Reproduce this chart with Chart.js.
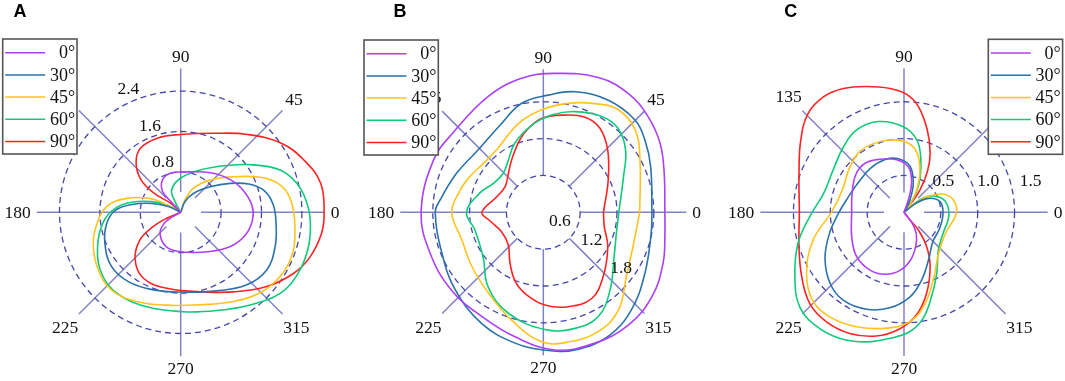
<!DOCTYPE html>
<html>
<head>
<meta charset="utf-8">
<script src="https://cdn.jsdelivr.net/npm/chart.js@4.4.0/dist/chart.umd.min.js"></script>
<style>
  html, body { margin: 0; padding: 0; background: #fff; }
  #wrap { position: relative; width: 1065px; height: 381px; }
  .panel { position: absolute; top: 0; width: 355px; height: 381px; }
</style>
</head>
<body>
<div id="wrap">
  <div class="panel" style="left:0px"><canvas id="chartA" width="355" height="381"></canvas></div>
  <div class="panel" style="left:355px"><canvas id="chartB" width="355" height="381"></canvas></div>
  <div class="panel" style="left:710px"><canvas id="chartC" width="355" height="381"></canvas></div>
</div>
<script>
// series legend + colours
const seriesNames = ["0°", "30°", "45°", "60°", "90°"];
const seriesColors = ["#ad3ff7", "#2a72a8", "#ffc31f", "#0fca7a", "#ff2222"];

// angle tick labels (degrees)
const angleTicks = [0, 45, 90, 135, 180, 225, 270, 315];

// radial ticks for each panel
const ringsA = [0.8, 1.6, 2.4];
const ringsB = [0.6, 1.2, 1.8];
const ringsC = [0.5, 1.0, 1.5];

// curves: [angle (deg), radius] in drawing order
// Panel A
const a00 = [[180,0],[209,0.19],[214,0.40],[227,0.60],[250,0.75],[279,0.80],[307,0.97],[326,1.20],[341,1.36],[354,1.43],[5,1.42],[18.5,1.32],[33,1.18],[53,0.98],[85,0.80],[104,0.80],[119,0.74],[131,0.55],[132,0.29],[180,0]];
const a30 = [[180,0],[155,0.27],[163,0.60],[171,0.98],[178.5,1.30],[188.5,1.48],[202,1.62],[218,1.74],[233,1.72],[250.5,1.63],[272,1.58],[294.5,1.71],[312,1.94],[326,2.05],[340,1.99],[353.5,1.90],[4.5,1.84],[14,1.72],[22,1.48],[30.5,1.13],[41,0.77],[56,0.45],[68,0.23],[180,0]];
const a45 = [[180,0],[152,0.31],[155,0.63],[165.5,1.10],[175.6,1.47],[189.6,1.70],[201.5,1.86],[215,1.99],[228.4,2.06],[243.8,1.97],[261.4,1.86],[281.8,1.87],[300.5,2.05],[315.6,2.25],[328.2,2.35],[339.9,2.36],[351.2,2.29],[1.2,2.23],[10.1,2.15],[17.2,1.99],[23.8,1.72],[34,1.26],[47.8,0.86],[62,0.54],[70.6,0.26],[180,0]];
const a60 = [[180,0],[151.6,0.28],[159.8,0.61],[168.5,0.99],[176.5,1.30],[186.9,1.54],[202.4,1.78],[217.7,1.98],[231.7,2.04],[250.2,1.99],[271.5,1.97],[290.1,2.07],[306.8,2.29],[320.8,2.54],[332.6,2.62],[344.9,2.62],[356.6,2.57],[5.6,2.49],[14,2.37],[23,2.14],[33.1,1.72],[45.4,1.30],[65.4,0.92],[91,0.67],[112,0.48],[118,0.24],[180,0]];
const a90 = [[180,0],[138,0.27],[144.5,0.65],[140.6,1.02],[132,1.32],[122,1.50],[107,1.54],[90,1.54],[67,1.70],[49.4,2.03],[34.7,2.41],[23,2.65],[11.8,2.83],[0,2.84],[351.5,2.82],[341,2.71],[331.5,2.54],[319.2,2.25],[303.5,1.89],[284,1.62],[259.5,1.53],[240.5,1.50],[226,1.30],[214,0.97],[207.3,0.61],[203,0.30],[180,0]];

// Panel B
const b00 = [[0,1.98],[18,2.07],[30.6,2.21],[42.3,2.31],[54.5,2.38],[67.8,2.37],[85.2,2.27],[99.2,2.21],[115.4,2.09],[138,1.96],[154.6,1.98],[180,1.99],[200,1.96],[220.3,1.96],[239.4,1.97],[257.2,2.08],[274.8,2.25],[291.5,2.29],[307,2.30],[322.1,2.24],[336.9,2.12],[350.2,2.01],[360,1.98]];
const b30 = [[0,1.77],[23,1.90],[35.4,2.03],[45.2,2.12],[59.9,2.11],[75.3,2.03],[87.6,1.91],[101.2,1.81],[116.8,1.58],[135.5,1.47],[156,1.55],[173,1.69],[180,1.76],[202,1.78],[221.3,1.91],[240.9,2.07],[257.8,2.18],[272,2.25],[283,2.30],[297.6,2.28],[312.1,2.14],[329,1.93],[349,1.79],[360,1.77]];
const b45 = [[0,1.57],[28.4,1.79],[41.9,2.01],[53.8,2.07],[64.6,1.96],[77.1,1.82],[90.9,1.67],[105.7,1.50],[127,1.27],[141,1.26],[154,1.33],[165,1.40],[180,1.49],[198.7,1.40],[217.2,1.46],[235.8,1.59],[253.6,1.83],[269.3,2.11],[280.9,2.15],[294.7,2.14],[307.5,2.01],[322.3,1.71],[343.1,1.55],[360,1.57]];
const b60 = [[0,1.23],[24,1.43],[37.1,1.68],[48.2,1.83],[58.6,1.83],[72.5,1.72],[85.1,1.59],[97.6,1.43],[112.3,1.22],[124,1.02],[136,0.91],[150,0.94],[163,1.08],[180,1.25],[194.5,1.15],[216.5,1.22],[233.5,1.51],[250.9,1.74],[270.8,1.91],[285.3,1.96],[297.8,1.92],[310.6,1.67],[328,1.36],[346.5,1.23],[360,1.23]];
const b90 = [[0,0.98],[26.4,1.18],[44.1,1.46],[56,1.65],[66.3,1.69],[79.3,1.61],[91,1.53],[100,1.39],[108,1.24],[121,1.00],[132,0.85],[146,0.75],[161.5,0.80],[180,1.00],[189,0.88],[205,0.75],[223,0.78],[236.8,0.99],[248.2,1.22],[258.6,1.37],[271,1.51],[284.8,1.59],[299.3,1.61],[313,1.43],[331.9,1.19],[346.8,1.02],[360,0.98]];

// Panel C
const c00 = [[0,0],[71.2,0.22],[76.7,0.45],[84.6,0.62],[98,0.72],[114.2,0.79],[128.5,0.85],[142.1,0.83],[159.8,0.75],[180,0.71],[206.4,0.79],[223.1,0.88],[239.5,0.91],[252.9,0.88],[266.1,0.79],[279.5,0.63],[294.6,0.41],[304.9,0.24],[0,0]];
const c30 = [[0,0],[63.4,0.16],[72.2,0.41],[82.5,0.63],[96,0.73],[109.7,0.76],[127.1,0.75],[147,0.74],[166.1,0.79],[181,0.89],[195.7,1.05],[210.2,1.24],[223.8,1.39],[235.3,1.45],[248.9,1.41],[261.6,1.31],[274.1,1.15],[284.6,0.95],[297,0.73],[314.3,0.56],[336,0.53],[358.5,0.53],[16.5,0.51],[29.9,0.38],[37.1,0.19],[0,0]];
const c45 = [[0,0],[50.7,0.13],[60.4,0.35],[68.5,0.59],[77.3,0.82],[86.4,0.94],[100.9,1.00],[114,1.02],[125.9,1.02],[139.8,0.96],[160,0.89],[179.5,0.98],[197,1.29],[212.1,1.56],[223.8,1.72],[234.6,1.74],[247.5,1.68],[263.1,1.58],[274.1,1.47],[283,1.27],[293.4,1.00],[310,0.73],[332.9,0.63],[358.9,0.71],[14,0.69],[24.6,0.59],[34.6,0.37],[38.2,0.16],[0,0]];
const c60 = [[0,0],[56.3,0.15],[57.7,0.30],[64.8,0.51],[72.8,0.77],[80.1,1.00],[90.4,1.16],[105.8,1.28],[119.9,1.29],[132.7,1.21],[149.1,1.12],[166.7,1.12],[182.6,1.28],[196.4,1.50],[210.6,1.72],[222.2,1.91],[232.6,1.95],[243.1,1.92],[253.9,1.83],[263.7,1.72],[272.9,1.62],[280.3,1.46],[288.2,1.20],[298.2,0.94],[312.6,0.69],[333.8,0.60],[354.5,0.61],[11.9,0.59],[24.5,0.51],[35.5,0.35],[39.8,0.18],[0,0]];
const c90 = [[0,0],[50.7,0.13],[54.4,0.37],[60.2,0.64],[66.2,0.88],[74.2,1.16],[82.3,1.45],[88.7,1.60],[96.4,1.69],[106.5,1.78],[116.1,1.87],[124.9,1.91],[134,1.87],[145,1.71],[159.6,1.52],[180,1.42],[198.2,1.50],[212.2,1.64],[224.1,1.78],[234.7,1.82],[245.9,1.80],[257.4,1.72],[268,1.58],[277,1.40],[285.6,1.14],[295.6,0.82],[303.4,0.56],[309,0.31],[308,0.13],[0,0]];

const DEG = Math.PI / 180;
const serifFont = "17.5px 'Liberation Serif', 'Times New Roman', serif";

function toXY(pts) {
	return pts.map(([a, r]) => ({ x: r * Math.cos(a * DEG), y: r * Math.sin(a * DEG) }));
}

// grid, tick labels, legend and panel letter drawn against the chart's own scales
const polarDecor = {
	id: "polarDecor",
	beforeDatasetsDraw(chart, args, opts) {
		const { ctx } = chart;
		const xs = chart.scales.x, ys = chart.scales.y;
		const pt = (a, r) => [xs.getPixelForValue(r * Math.cos(a * DEG)), ys.getPixelForValue(r * Math.sin(a * DEG))];
		ctx.save();
		ctx.strokeStyle = "#8282c8";
		ctx.lineWidth = 1.5;
		angleTicks.forEach((a) => {
			const p0 = pt(a, opts.spokeFrom), p1 = pt(a, opts.spokeTo);
			ctx.beginPath();
			ctx.moveTo(p0[0], p0[1]);
			ctx.lineTo(p1[0], p1[1]);
			ctx.stroke();
		});
		const cx = xs.getPixelForValue(0), cy = ys.getPixelForValue(0);
		ctx.strokeStyle = "#4646aa";
		ctx.lineWidth = 1.3;
		ctx.setLineDash([6, 4]);
		opts.rings.forEach((r) => {
			const rad = xs.getPixelForValue(r) - cx;
			ctx.beginPath();
			ctx.arc(cx, cy, rad, 0, Math.PI * 2);
			ctx.stroke();
		});
		ctx.restore();
	},
	afterDatasetsDraw(chart, args, opts) {
		const { ctx } = chart;
		const xs = chart.scales.x, ys = chart.scales.y;
		const cx = xs.getPixelForValue(0), cy = ys.getPixelForValue(0);
		const unit = xs.getPixelForValue(1) - cx;
		ctx.save();
		ctx.fillStyle = "#111";
		ctx.font = serifFont;
		ctx.textAlign = "center";
		ctx.textBaseline = "middle";

		// angle labels outside the spokes
		const outer = opts.spokeTo * unit + 6;
		angleTicks.forEach((a) => {
			const txt = String(a);
			const w = ctx.measureText(txt).width;
			const c = Math.cos(a * DEG), s = Math.sin(a * DEG);
			const rr = outer + Math.abs(c) * w / 2 + Math.abs(s) * 6;
			ctx.fillText(txt, cx + c * rr, cy - s * rr + 1);
		});

		// ring labels
		opts.rings.forEach((r, i) => {
			const [a, rr] = opts.ringLabelAt[i];
			ctx.fillText(r.toFixed(1), cx + Math.cos(a * DEG) * rr * unit, cy - Math.sin(a * DEG) * rr * unit);
		});

		// legend box
		const lg = opts.legend;
		ctx.fillStyle = "#fff";
		ctx.fillRect(lg.x, lg.y, 74.3, 115);
		ctx.strokeStyle = "#555";
		ctx.lineWidth = 1.6;
		ctx.strokeRect(lg.x, lg.y, 74.3, 115);
		ctx.font = "18px 'Liberation Serif', 'Times New Roman', serif";
		ctx.textAlign = "right";
		seriesNames.forEach((name, i) => {
			const yy = lg.y + 13.7 + i * 22.2;
			ctx.strokeStyle = seriesColors[i];
			ctx.lineWidth = 1.5;
			ctx.beginPath();
			ctx.moveTo(lg.x + 2.5, yy);
			ctx.lineTo(lg.x + 42.5, yy);
			ctx.stroke();
			ctx.fillStyle = "#111";
			ctx.fillText(name, lg.x + 72.5, yy + 1);
		});

		// panel letter
		ctx.font = "bold 18px 'Liberation Sans', Arial, sans-serif";
		ctx.textAlign = "center";
		ctx.fillStyle = "#000";
		ctx.fillText(opts.title, opts.titleX, 12.5);
		ctx.restore();
	},
};

function makePanel(canvasId, cfg) {
	const W = 355, H = 381;
	const s = cfg.pxPerUnit;
	const datasets = cfg.series.map((pts, i) => ({
		label: seriesNames[i],
		data: toXY(pts),
		showLine: true,
		borderColor: seriesColors[i],
		backgroundColor: seriesColors[i],
		borderWidth: 1.6,
		pointRadius: 0,
		tension: 0.4,
		fill: false,
	}));

	new Chart(document.getElementById(canvasId).getContext("2d"), {
		type: "scatter",
		data: { datasets: datasets },
		plugins: [polarDecor],
		options: {
			responsive: false,
			animation: false,
			events: [],
			layout: { padding: 0 },
			scales: {
				x: { type: "linear", display: false, min: -cfg.cx / s, max: (W - cfg.cx) / s },
				y: { type: "linear", display: false, min: -(H - cfg.cy) / s, max: cfg.cy / s },
			},
			plugins: {
				legend: { display: false },
				tooltip: { enabled: false },
				polarDecor: {
					rings: cfg.rings,
					ringLabelAt: cfg.ringLabelAt,
					spokeFrom: cfg.spokeFrom,
					spokeTo: cfg.spokeTo,
					legend: cfg.legend,
					title: cfg.title,
					titleX: cfg.titleX,
				},
			},
		},
	});
}

makePanel("chartA", {
	title: "A", titleX: 20,
	cx: 180.7, cy: 212.3, pxPerUnit: 50.5,
	rings: ringsA, ringLabelAt: [[109.7, 1.04], [109.6, 1.81], [113, 2.65]],
	spokeFrom: 0.4, spokeTo: 2.85,
	legend: { x: 2.7, y: 39 },
	series: [a00, a30, a45, a60, a90],
});

makePanel("chartB", {
	title: "B", titleX: 45,
	cx: 188.3, cy: 212.3, pxPerUnit: 61.4,
	rings: ringsB, ringLabelAt: [[-29.4, 0.31], [-30.4, 0.91], [-35.6, 1.56]],
	spokeFrom: 0.6, spokeTo: 2.33,
	legend: { x: 9, y: 40 },
	series: [b00, b30, b45, b60, b90],
});

makePanel("chartC", {
	title: "C", titleX: 80.8,
	cx: 194, cy: 212.3, pxPerUnit: 73.7,
	rings: ringsC, ringLabelAt: [[37.9, 0.676], [20, 1.217], [13.6, 1.768]],
	spokeFrom: 0.27, spokeTo: 1.95,
	legend: { x: 278.3, y: 39.3 },
	series: [c00, c30, c45, c60, c90],
});
</script>
</body>
</html>
